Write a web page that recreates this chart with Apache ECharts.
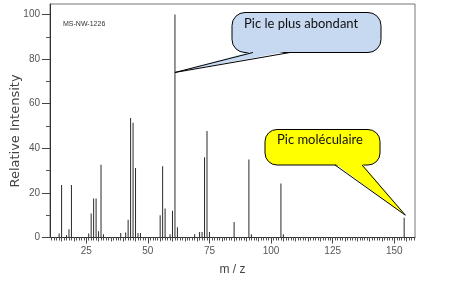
<!DOCTYPE html>
<html><head><meta charset="utf-8">
<script src="https://cdn.jsdelivr.net/npm/echarts@6/dist/echarts.min.js"></script>
<style>html,body{margin:0;padding:0;background:#fff}#c{width:455px;height:290px}</style>
</head><body><div id="c"></div>
<script>
// ---- data ----
const mzValues    = [14, 15, 17, 18, 19, 26, 27, 28, 29, 30, 31, 32, 39, 41, 42, 43, 44, 45, 46, 47, 55, 56, 57, 59, 60, 61, 62, 69, 71, 72, 73, 74, 75, 85, 91, 92, 104, 105, 154];
const intensities = [1.8, 23.5, 1, 3.7, 23.5, 1.8, 10.8, 17.5, 17.5, 2.8, 32.6, 1.5, 2, 2.2, 8, 53.6, 51.4, 31.2, 2, 2, 10, 32, 13, 1.5, 12, 100, 4.6, 1.5, 2.5, 2.5, 36, 47.8, 2.5, 7, 35, 1.5, 24.2, 1.5, 8.8];
const xTickLabels = [25, 50, 75, 100, 125, 150];
const yTickLabels = [0, 20, 40, 60, 80, 100];
const spectrumId  = 'MS-NW-1226';
const xTitle = 'm / z';
const yTitle = 'Relative Intensity';
const baseCallout = 'Pic le plus abondant';
const molCallout  = 'Pic moléculaire';
const basePeakMz = 61, molPeakMz = 154;

// ---- chart ----
const X_MIN = 10.3, X_MAX = 158.4, Y_MIN = 0, Y_MAX = 104.7;
const minorX = []; for (let v = 11; v <= 158; v++) minorX.push(v);
const midX = []; for (let v = 15; v <= 155; v += 5) midX.push(v);
const minorY = []; for (let v = 0; v <= 100; v += 10) minorY.push(v);

const labelFont = {fontFamily: 'Liberation Sans', fontSize: 10, color: '#555'};
const chart = echarts.init(document.getElementById('c'), null, {renderer: 'canvas'});
const common = {type: 'value', splitLine: {show: false}};
chart.setOption({
  animation: false,
  grid: {left: 50, right: 40, top: 4, bottom: 52.5, show: true, borderColor: '#777', borderWidth: 1,
         containLabel: false, outerBoundsMode: 'none'},
  xAxis: [
    Object.assign({}, common, {min: X_MIN, max: X_MAX, position: 'bottom',
      axisLine: {lineStyle: {color: '#333', width: 1}},
      axisTick: {customValues: minorX, length: 3, lineStyle: {color: '#555'}},
      axisLabel: {show: false}}),
    Object.assign({}, common, {min: X_MIN, max: X_MAX, position: 'bottom',
      axisLine: {show: false},
      axisTick: {customValues: midX, length: 4, lineStyle: {color: '#555'}},
      axisLabel: {show: false}}),
    Object.assign({}, common, {min: X_MIN, max: X_MAX, position: 'bottom',
      axisLine: {show: false},
      axisTick: {customValues: xTickLabels, length: 6, lineStyle: {color: '#444'}},
      axisLabel: Object.assign({customValues: xTickLabels, margin: 9}, labelFont),
      name: xTitle, nameLocation: 'middle', nameGap: 26,
      nameTextStyle: {fontFamily: 'Liberation Sans', fontSize: 12, color: '#444'}})
  ],
  yAxis: [
    Object.assign({}, common, {min: Y_MIN, max: Y_MAX,
      axisLine: {show: true, lineStyle: {color: '#333', width: 1}},
      axisTick: {show: true, customValues: minorY, length: 4, lineStyle: {color: '#555'}},
      axisLabel: {show: false}}),
    Object.assign({}, common, {min: Y_MIN, max: Y_MAX, position: 'left',
      axisLine: {show: false},
      axisTick: {show: true, customValues: yTickLabels, length: 8, lineStyle: {color: '#444'}},
      axisLabel: Object.assign({customValues: yTickLabels, margin: 10}, labelFont)})
  ],
  series: [{
    type: 'bar', xAxisIndex: 0, yAxisIndex: 0, barWidth: 1,
    itemStyle: {color: '#2a2a2a'},
    data: mzValues.map((m, i) => [m, intensities[i]])
  }]
});

function callout(x1, y1, x2, y2, r, bl, br, tip, fill) {
  return [
    {type: 'rect', shape: {x: x1, y: y1, width: x2 - x1, height: y2 - y1, r: r},
     style: {fill: fill, stroke: '#000', lineWidth: 1}, z: 100},
    {type: 'polygon', shape: {points: [[bl, y2 - 1.5], [tip[0], tip[1]], [br, y2 - 1.5]]},
     style: {fill: fill, stroke: null}, z: 101},
    {type: 'polyline', shape: {points: [[bl, y2], [tip[0], tip[1]], [br, y2]]},
     style: {fill: null, stroke: '#000', lineWidth: 1}, z: 102}
  ];
}
const tipBase = chart.convertToPixel({gridIndex: 0}, [basePeakMz, 74]);
const tipMol = chart.convertToPixel({gridIndex: 0}, [molPeakMz + 0.5, 10]);
const els = [
  {type: 'text', x: 63, y: 21, style: {text: spectrumId, fontFamily: 'Liberation Sans', fontSize: 7, fill: '#333'}, z: 100},
  {type: 'text', x: 16, y: 131, rotation: Math.PI / 2, z: 100,
   style: {text: yTitle, fontFamily: 'DejaVu Sans', fontSize: 13, fill: '#444', align: 'center', verticalAlign: 'middle'}}
].concat(
  callout(232, 12.5, 381, 52.5, 13, 253, 290, tipBase, '#c6d9f1'),
  [{type: 'text', x: 244, y: 24, z: 103, style: {text: baseCallout, fontFamily: 'Lato', fontSize: 13, fill: '#111', verticalAlign: 'middle'}}],
  callout(265, 129.5, 380, 165, 12, 335, 362, tipMol, '#ffff00'),
  [{type: 'text', x: 277, y: 140, z: 103, style: {text: molCallout, fontFamily: 'Lato', fontSize: 13, fill: '#111', verticalAlign: 'middle'}}]
);
chart.setOption({graphic: els});
</script></body></html>
